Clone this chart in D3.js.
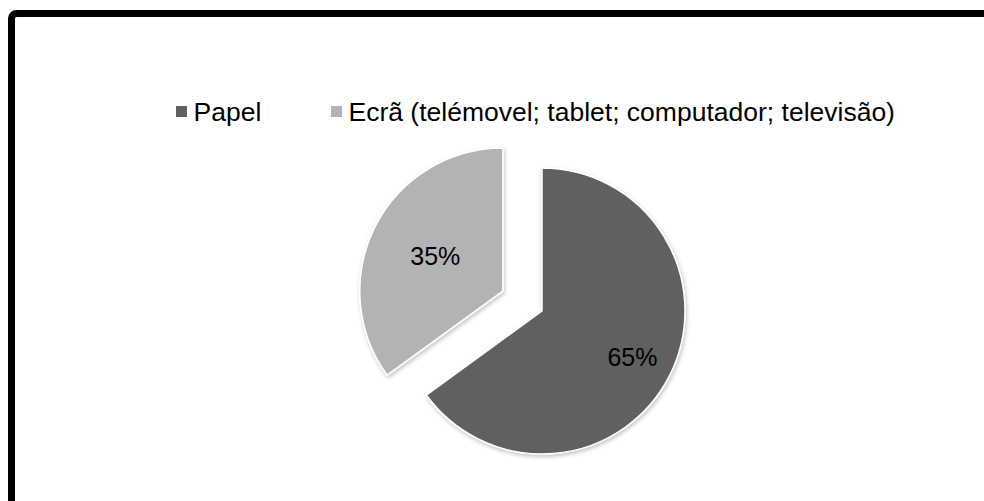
<!DOCTYPE html>
<html><head><meta charset="utf-8">
<script src="https://cdn.jsdelivr.net/npm/d3@7"></script>
<style>html,body{margin:0;padding:0;background:#fff;overflow:hidden}</style>
</head><body>
<svg id="c" width="984" height="501"></svg>
<script>
const categories = ["Papel", "Ecrã (telémovel; tablet; computador; televisão)"];
const values = [65, 35];
const labels = ["65%", "35%"];
const colors = ["#616161", "#b3b3b3"];

const svg = d3.select("#c");
const FONT = "Liberation Sans, Arial, sans-serif";

const defs = svg.append("defs");
const f = defs.append("filter").attr("id","sh").attr("x","-20%").attr("y","-20%").attr("width","140%").attr("height","140%");
f.append("feDropShadow").attr("dx",1).attr("dy",2).attr("stdDeviation",2).attr("flood-color","#000").attr("flood-opacity",0.25);

// frame
svg.append("rect").attr("x",11.5).attr("y",13.5).attr("width",1100).attr("height",600)
  .attr("rx",5).attr("fill","none").attr("stroke","#000").attr("stroke-width",7);

const cx = 542, cy = 311, r = 143;
const explode = [0, 44];
const labelFactor = [0.71, 0.53];

const pie = d3.pie().sort(null).startAngle(0).endAngle(2*Math.PI);
const arcs = pie(values);
const arc = d3.arc().innerRadius(0).outerRadius(r);

const g = svg.append("g").attr("transform", `translate(${cx},${cy})`);
arcs.forEach((a, i) => {
  const mid = (a.startAngle + a.endAngle) / 2;
  const ox = Math.sin(mid) * explode[i], oy = -Math.cos(mid) * explode[i];
  const sg = g.append("g").attr("transform", `translate(${ox},${oy})`);
  sg.append("path").attr("d", arc(a)).attr("fill", colors[i])
    .attr("stroke", "#fff").attr("stroke-width", 1.5).attr("stroke-linejoin","round")
    .attr("filter", "url(#sh)");
  const lr = r * labelFactor[i];
  sg.append("text").attr("x", Math.sin(mid) * lr).attr("y", -Math.cos(mid) * lr)
    .attr("text-anchor", "middle").attr("dy", "0.35em")
    .attr("font-family", FONT).attr("font-size", 25).attr("fill", "#000")
    .text(labels[i]);
});

// legend
const legX = [176, 331];
const leg = svg.append("g");
categories.forEach((c, i) => {
  leg.append("rect").attr("x", legX[i]).attr("y", 106).attr("width", 11).attr("height", 11)
    .attr("fill", colors[i]);
  leg.append("text").attr("x", legX[i] + 17.5).attr("y", 121)
    .attr("font-family", FONT).attr("font-size", 26.5).attr("fill", "#000").text(c);
});
</script>
</body></html>
